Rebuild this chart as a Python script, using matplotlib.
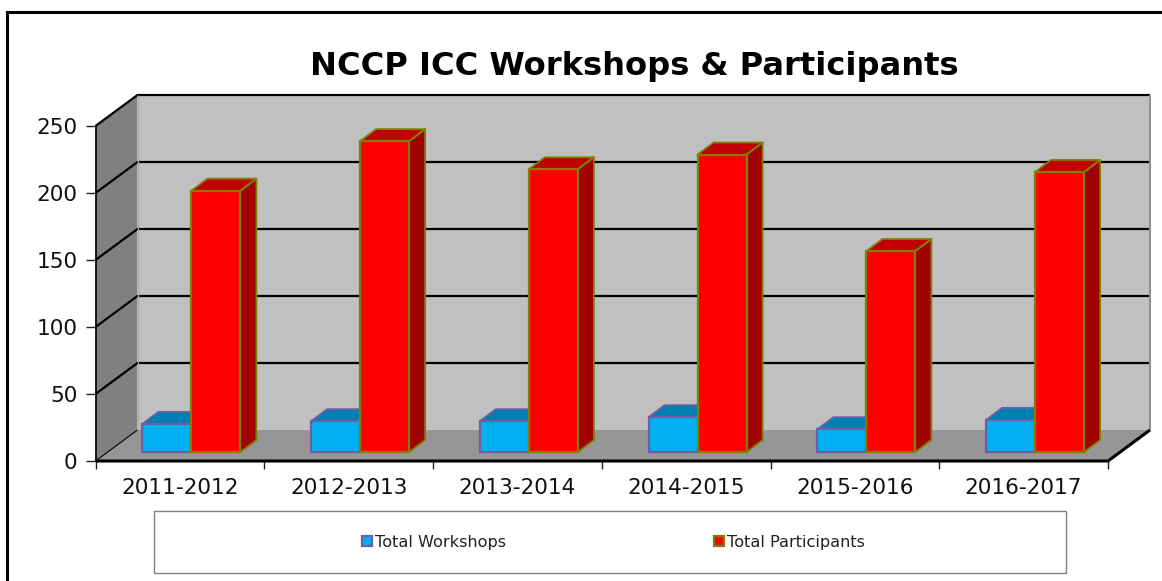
import matplotlib
matplotlib.use("Agg")
import matplotlib.pyplot as plt
from matplotlib.transforms import Affine2D
from matplotlib.lines import Line2D

title = "NCCP ICC Workshops & Participants"
years = ["2011-2012", "2012-2013", "2013-2014", "2014-2015", "2015-2016", "2016-2017"]
workshops = [21, 23, 23, 26, 17, 24]
participants = [195, 232, 211, 222, 150, 209]
y_ticks = [0, 50, 100, 150, 200, 250]

W, H = 1162, 581
fig = plt.figure(figsize=(W / 100, H / 100), dpi=100, facecolor="white")
L, R, B, T = 95.5, 1108, 461, 126
ax = fig.add_axes([L / W, 1 - B / H, (R - L) / W, (B - T) / H])
ax.set_xlim(0, 6)
ax.set_ylim(0, 250)
px_x = (R - L) / 6
px_y = (B - T) / 250

# depth of the box and of the bars, expressed in data units
DX, DY = 42 / px_x, 31 / px_y
bar_shift = Affine2D().translate(11.5, 9)
bar_tr = ax.transData + bar_shift
dx, dy = 16 / px_x, 12 / px_y
width = 49 / px_x

def poly(xs, ys, color, z, tr=None):
    ax.fill(xs, ys, facecolor=color, edgecolor="none", zorder=z, clip_on=False,
            transform=tr if tr is not None else ax.transData)

# walls and floor
poly([DX, 6 + DX, 6 + DX, DX], [DY, DY, 250 + DY, 250 + DY], "#C0C0C0", 1)
poly([0, DX, DX, 0], [0, DY, 250 + DY, 250], "#808080", 1)
poly([0, 6, 6 + DX, DX], [0, 0, DY, DY], "#969696", 1)

def seg(xs, ys, lw=2, color="black", z=2):
    ax.add_line(Line2D(xs, ys, lw=lw, color=color, zorder=z, clip_on=False,
                       solid_capstyle="butt", solid_joinstyle="miter"))

for v in y_ticks[1:]:
    seg([0, DX, 6 + DX], [v, v + DY, v + DY], lw=1.6)
seg([0, 0], [0, 250], lw=1.2)
seg([0, DX], [0, DY], lw=0.8)
seg([6 + DX, 6 + DX], [DY, 250 + DY], lw=1.5, color="#909090", z=3)
seg([DX, DX], [DY, 250 + DY], lw=1, color="#A8A8A8")
seg([0, 6, 6 + DX], [0, 0, DY], lw=2.2, z=6)

def bar3d(lefts, vals, face, edge, top, side, label):
    handle = None
    for x0, v in zip(lefts, vals):
        poly([x0, x0 + dx, x0 + width + dx, x0 + width], [v, v + dy, v + dy, v], top, 3, bar_tr)
        poly([x0 + width, x0 + width + dx, x0 + width + dx, x0 + width],
             [0, dy, v + dy, v], side, 3, bar_tr)
        for xs, ys in ([[x0, x0 + dx, x0 + width + dx, x0 + width], [v, v + dy, v + dy, v]],
                       [[x0 + width, x0 + width + dx, x0 + width + dx], [v, v + dy, dy]],
                       [[x0 + width, x0 + width + dx], [0, dy]]):
            ax.add_line(Line2D(xs, ys, lw=1.3, color=edge, zorder=3, clip_on=False, transform=bar_tr))
        cont = ax.bar(x0, v, width=width, align="edge", facecolor=face, edgecolor=edge,
                      linewidth=1.6, zorder=3, clip_on=False, transform=bar_tr,
                      label=label if handle is None else None)
        handle = handle or cont
    return handle

centers = [i + 0.5 for i in range(6)]
h1 = bar3d([c - width for c in centers], workshops, "#00B0F0", "#6A5FA8", "#0080B0", "#0080B0", "Total Workshops")
h2 = bar3d(centers, participants, "#FF0000", "#808000", "#C00000", "#A00000", "Total Participants")
ax.set_xlim(0, 6)
ax.set_ylim(0, 250)

for s in ax.spines.values():
    s.set_visible(False)
ax.patch.set_visible(False)
ax.set_xticks(centers, years, fontsize=15.6, color="#111111")
ax.set_xticks(range(7), minor=True)
ax.tick_params(axis="x", which="major", length=0, pad=12)
ax.tick_params(axis="x", which="minor", length=6, width=1, color="#222222")
ax.set_yticks(y_ticks, [str(v) for v in y_ticks], fontsize=15.6, color="#111111")
ax.tick_params(axis="y", length=7, width=1, pad=6, color="#222222")

fig.text(634 / W, 1 - 67 / H, title, fontsize=23.1, fontweight="bold", ha="center", va="center", color="black")

# outer chart border: only the left and top edges show in the reference crop
fig.add_artist(Line2D([7 / W, 7 / W, 1], [0, 1 - 11.5 / H, 1 - 11.5 / H], lw=2.2, color="black",
                      solid_joinstyle="miter"))
# legend box
fig.add_artist(plt.Rectangle((154 / W, 1 - 573 / H), 912 / W, 62 / H, facecolor="white",
                             edgecolor="#808080", lw=1))
leg = fig.legend(handles=[h1[0], h2[0]], labels=["Total Workshops", "Total Participants"], ncol=2,
                 frameon=False, fontsize=11.6, loc="center left", labelcolor="#222222",
                 bbox_to_anchor=(362 / W, 1 - 542 / H), borderpad=0, borderaxespad=0,
                 handlelength=0.62, handleheight=0.62, handletextpad=0.2, columnspacing=12.9)
fig.savefig("out.png", dpi=100, facecolor="white")
